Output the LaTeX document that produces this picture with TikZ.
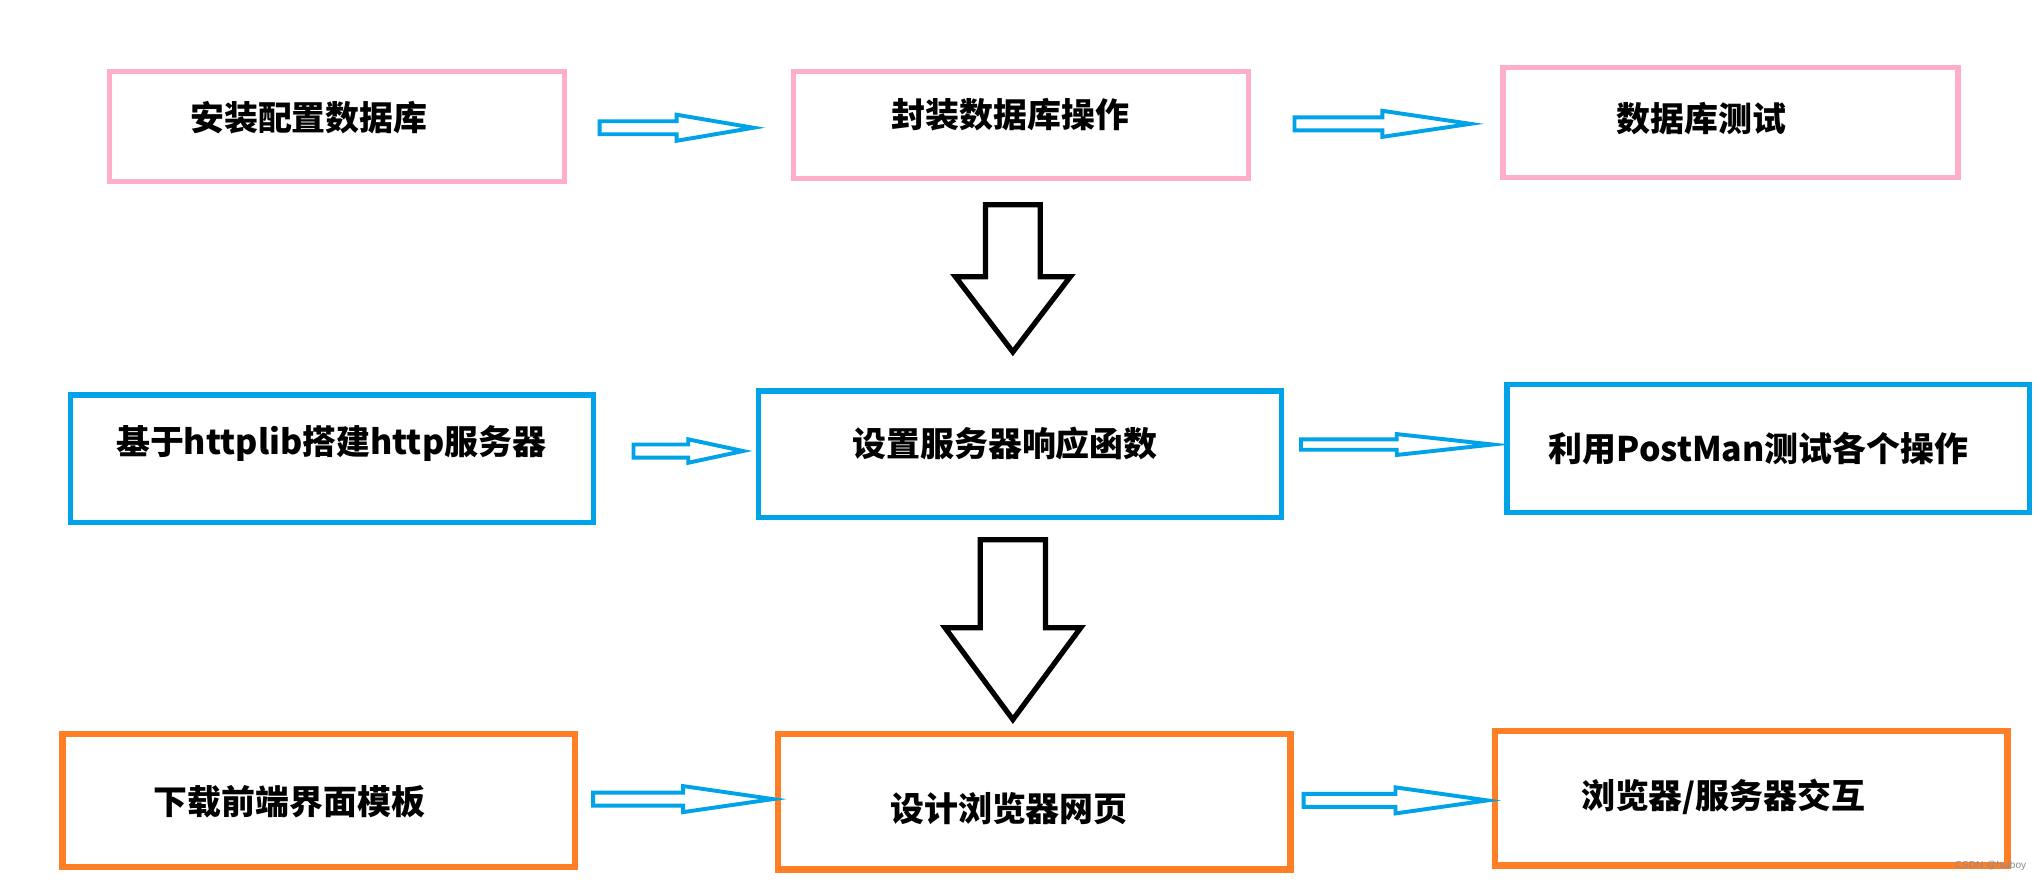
\documentclass[tikz,border=0pt]{standalone}
\usepackage{fontspec}
\newfontfamily\cjk{Noto Sans CJK SC}
\setsansfont{Liberation Sans}
\usetikzlibrary{calc}
\def\PX{0.025cm}

% thin hollow arrow to the right: tail, tip, shaft half width, head half width
\newcommand\thinright[4]{%
  \draw[thinarrow] ($(#1)+(0,-#3)$) -- ($(#1)!0.5!(#2)+(0,-#3)$) -- ($(#1)!0.5!(#2)+(0,-#4)$)
    -- (#2) -- ($(#1)!0.5!(#2)+(0,#4)$) -- ($(#1)!0.5!(#2)+(0,#3)$) -- ($(#1)+(0,#3)$) -- cycle;}
% big hollow arrow downwards: top, tip, shaft half width, head half width
\newcommand\bigdown[4]{%
  \draw[bigarrow] ($(#1)+(-#3,0)$) -- ($(#1)!0.49!(#2)+(-#3,0)$) -- ($(#1)!0.49!(#2)+(-#4,0)$)
    -- (#2) -- ($(#1)!0.49!(#2)+(#4,0)$) -- ($(#1)!0.49!(#2)+(#3,0)$) -- ($(#1)+(#3,0)$) -- cycle;}

\begin{document}
\begin{tikzpicture}[x=0.025cm,y=-0.025cm,
    box/.style={draw,inner sep=0pt,line width=0.1cm},
    boxsize/.style 2 args={minimum width=#1*\PX,minimum height=#2*\PX},
    pinkbox/.style={box,draw={rgb,255:red,255;green,174;blue,201}},
    bluebox/.style={box,draw={rgb,255:red,0;green,162;blue,232}},
    orangebox/.style={box,draw={rgb,255:red,255;green,127;blue,39},line width=0.12cm},
    txt/.style={inner sep=0pt,font=\cjk\bfseries\fontsize{18.5}{20}\selectfont},
    thinarrow/.style={draw={rgb,255:red,0;green,162;blue,232},line width=0.075cm,fill=white},
    bigarrow/.style={draw=black,line width=0.1cm,fill=white,line join=miter}]
   \useasboundingbox (0,0) rectangle (1568,677);
   % Database row
   \node[pinkbox,boxsize={349}{84}] (db1) at (258.5,97) {};
   \node[pinkbox,boxsize={349}{82}] (db2) at (783.5,96) {};
   \node[pinkbox,boxsize={349}{84}] (db3) at (1327.5,94) {};
   \node[txt] (db1t) at (237,90) {安装配置数据库};
   \node[txt] (db2t) at (775,88) {封装数据库操作};
   \node[txt] (db3t) at (1305,91) {数据库测试};
   % Server row
   \node[bluebox,boxsize={401}{98}] (sv1) at (254.5,352) {};
   \node[bluebox,boxsize={401}{97}] (sv2) at (782.5,348.5) {};
   \node[bluebox,boxsize={401}{98}] (sv3) at (1356.5,344) {};
   \node[txt] (sv1t) at (254,340) {基于httplib搭建http服务器};
   \node[txt] (sv2t) at (771,340) {设置服务器响应函数};
   \node[txt] (sv3t) at (1349,344) {利用PostMan测试各个操作};
   % Browser row
   \node[orangebox,boxsize={393}{102}] (br1) at (244.5,614) {};
   \node[orangebox,boxsize={393}{104}] (br2) at (793.5,615) {};
   \node[orangebox,boxsize={393}{103}] (br3) at (1343.5,612.5) {};
   \node[txt] (br1t) at (222,615) {下载前端界面模板};
   \node[txt] (br2t) at (774,620) {设计浏览器网页};
   \node[txt] (br3t) at (1322,611) {浏览器/服务器交互};
   % Arrow end points
   \coordinate (a1s) at (460,98);   \coordinate (a1e) at (578,98);
   \coordinate (a2s) at (993,95);   \coordinate (a2e) at (1128,95);
   \coordinate (a3s) at (486,346);  \coordinate (a3e) at (570,346);
   \coordinate (a4s) at (998,341);  \coordinate (a4e) at (1145,341);
   \coordinate (a5s) at (455,613);  \coordinate (a5e) at (593,613);
   \coordinate (a6s) at (1000,614); \coordinate (a6e) at (1141,614);
   \coordinate (d1s) at (777,157);  \coordinate (d1e) at (777,270);
   \coordinate (d2s) at (777,414);  \coordinate (d2e) at (777,552);
   % Arrows along the rows
   \thinright{a1s}{a1e}{5}{10}
   \thinright{a2s}{a2e}{5}{10}
   \thinright{a3s}{a3e}{5}{9}
   \thinright{a4s}{a4e}{4}{8}
   \thinright{a5s}{a5e}{5}{10}
   \thinright{a6s}{a6e}{5}{10}
   % Arrows between the rows
   \bigdown{d1s}{d1e}{21}{44}
   \bigdown{d2s}{d2e}{25}{52}
   % Watermark
   \node[font=\sffamily\fontsize{5.5}{6}\selectfont,text=black!45,inner sep=0pt] (mark) at (1527,664) {CSDN @haiboy};
\end{tikzpicture}
\end{document}
